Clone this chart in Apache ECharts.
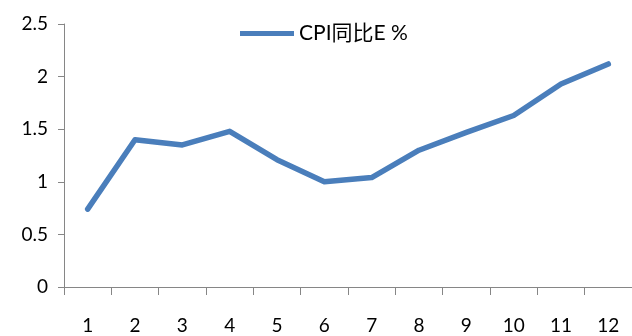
<!DOCTYPE html>
<html>
<head>
<meta charset="utf-8">
<script src="https://cdn.jsdelivr.net/npm/echarts@6/dist/echarts.min.js"></script>
<style>
  html, body { margin: 0; padding: 0; background: #fff; }
  #chart { width: 632px; height: 336px; }
</style>
</head>
<body>
<div id="chart"></div>
<script>
// Monthly CPI year-on-year estimate (%)
const months = ['1', '2', '3', '4', '5', '6', '7', '8', '9', '10', '11', '12'];
const cpiYoY = [0.74, 1.40, 1.35, 1.48, 1.21, 1.00, 1.04, 1.30, 1.47, 1.63, 1.93, 2.12];
const seriesName = 'CPI同比E %';
const yTicks = { min: 0, max: 2.5, interval: 0.5 };

const FONT = 'Lato, "Noto Sans CJK SC", sans-serif';
const AXIS_COLOR = '#868686';
const LINE_COLOR = '#4A7EBB';

const chart = echarts.init(document.getElementById('chart'), null, { renderer: 'canvas' });
chart.setOption({
  animation: false,
  backgroundColor: '#ffffff',
  textStyle: { fontFamily: FONT },
  legend: {
    show: true,
    data: [seriesName],
    left: 235,
    top: 18,
    itemWidth: 54,
    itemHeight: 5,
    itemGap: 6,
    icon: 'rect',
    textStyle: { fontFamily: FONT, fontSize: 21, color: '#000' }
  },
  grid: { left: 64, right: 0, top: 24, bottom: 49, containLabel: false },
  xAxis: {
    type: 'category',
    data: months,
    boundaryGap: true,
    axisLine: { lineStyle: { color: AXIS_COLOR, width: 1 } },
    axisTick: { show: true, length: 8, inside: false, alignWithLabel: false, lineStyle: { color: AXIS_COLOR } },
    axisLabel: { fontFamily: FONT, fontSize: 19, color: '#000', margin: 29 },
    splitLine: { show: false }
  },
  yAxis: {
    type: 'value',
    min: yTicks.min,
    max: yTicks.max,
    interval: yTicks.interval,
    axisLine: { show: true, lineStyle: { color: AXIS_COLOR, width: 1 } },
    axisTick: { show: true, length: 6, lineStyle: { color: AXIS_COLOR } },
    axisLabel: { fontFamily: FONT, fontSize: 19, color: '#000', margin: 16 },
    splitLine: { show: false }
  },
  series: [{
    name: seriesName,
    type: 'line',
    data: cpiYoY,
    symbol: 'none',
    smooth: false,
    lineStyle: { color: LINE_COLOR, width: 5.5, cap: 'round', join: 'round' },
    itemStyle: { color: LINE_COLOR }
  }]
});
</script>
</body>
</html>
